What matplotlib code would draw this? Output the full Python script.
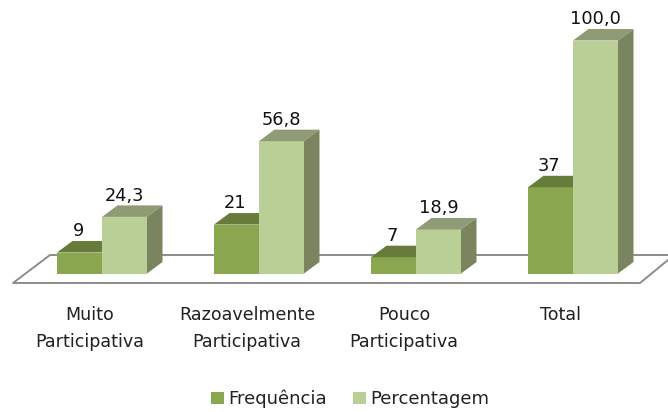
import matplotlib
matplotlib.use("Agg")
import matplotlib.pyplot as plt
from matplotlib.patches import Polygon
import numpy as np

categorias = ["Muito\nParticipativa", "Razoavelmente\nParticipativa", "Pouco\nParticipativa", "Total"]
frequencia = [9, 21, 7, 37]
percentagem = [24.3, 56.8, 18.9, 100.0]
rotulos_freq = ["9", "21", "7", "37"]
rotulos_perc = ["24,3", "56,8", "18,9", "100,0"]

plt.rcParams['font.family'] = ['DejaVu Sans']

# escala: 157 px por categoria, 2.33 px por unidade
px_x = 157.0
px_y = 2.33
larg = 45 / px_x
dx = 15.5 / px_x
dy = 11.5 / px_y

fig = plt.figure(figsize=(6.68, 4.12), dpi=100)
ax = fig.add_axes([0, 0, 1, 1])
ax.set_xlim(-102 / px_x, (668 - 102) / px_x)
ax.set_ylim(-(412 - 273.5) / px_y, 273.5 / px_y)
ax.axis("off")

x = np.arange(len(categorias))

# "chao" do grafico 3D
chao_frente = -9.5 / px_y
chao_fundo = 18.5 / px_y
ax.plot([(668 - 102) / px_x, (50 - 102) / px_x, (13 - 102) / px_x, (640 - 102) / px_x, (668 - 102) / px_x],
        [chao_fundo, chao_fundo, chao_frente, chao_frente, 13.5 / px_y],
        color="#8c8c8c", lw=1.4, zorder=1)


def barra_3d(xs, valores, cor, cor_topo, cor_lado, z):
    ax.bar(xs, valores, width=larg, align="edge", color=cor, zorder=z)
    for xi, v in zip(xs, valores):
        topo = [(xi, v), (xi + larg, v), (xi + larg + dx, v + dy), (xi + dx, v + dy)]
        lado = [(xi + larg, 0), (xi + larg + dx, dy), (xi + larg + dx, v + dy), (xi + larg, v)]
        ax.add_patch(Polygon(topo, closed=True, fc=cor_topo, ec="none", zorder=z))
        ax.add_patch(Polygon(lado, closed=True, fc=cor_lado, ec="none", zorder=z))


barra_3d(x - larg, frequencia, "#8AA74F", "#677B3A", "#677B3A", 2)
barra_3d(x, percentagem, "#B9CF96", "#8E9B75", "#7A8560", 3)

# rotulos de valor
for xi, v, r in zip(x - larg, frequencia, rotulos_freq):
    ax.annotate(r, (xi + larg / 2, v + dy), xytext=(-1, 0.5), textcoords="offset points",
                ha="center", va="bottom", fontsize=12.8, color="#111111", zorder=5)
for xi, v, r in zip(x, percentagem, rotulos_perc):
    ax.annotate(r, (xi + larg / 2, v + dy), xytext=(0, 0.5), textcoords="offset points",
                ha="center", va="bottom", fontsize=12.8, color="#111111", zorder=5)

# rotulos das categorias
for xi, c in zip(x, categorias):
    ax.text(xi - 12 / px_x, -(306 - 273.5) / px_y, c, ha="center", va="top",
            fontsize=12.6, color="#222222", linespacing=1.63)

# legenda
h1 = plt.Rectangle((0, 0), 1, 1, fc="#8AA74F")
h2 = plt.Rectangle((0, 0), 1, 1, fc="#B9CF96")
fig.legend([h1, h2], ["Frequência", "Percentagem"], ncol=2, frameon=False,
           loc="center", bbox_to_anchor=(350 / 668, 1 - 399 / 412), fontsize=13,
           handlelength=0.72, handleheight=0.72, handletextpad=0.22, columnspacing=1.44,
           labelcolor="#222222")

fig.savefig("out.png", dpi=100)
